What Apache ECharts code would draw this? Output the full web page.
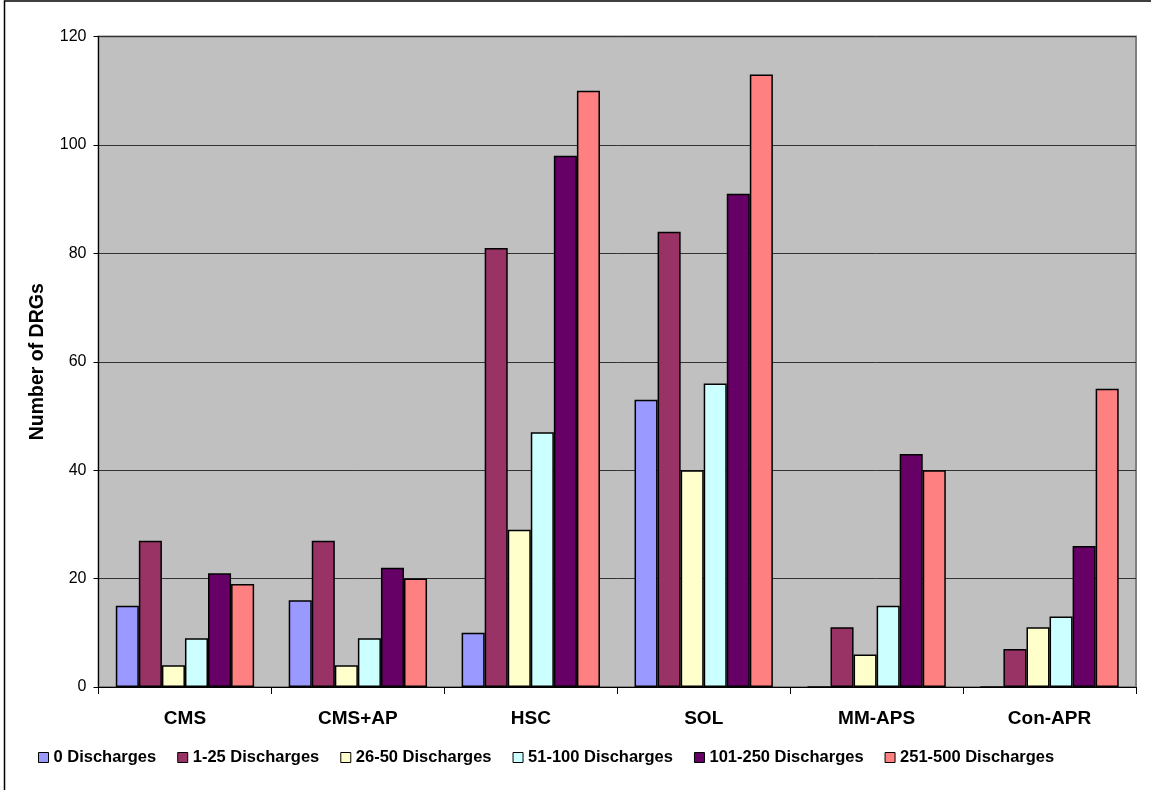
<!DOCTYPE html>
<html>
<head>
<meta charset="utf-8">
<script src="https://cdn.jsdelivr.net/npm/echarts@6/dist/echarts.min.js"></script>
<style>
  html, body { margin: 0; padding: 0; background: #fff; }
  #chart { width: 1151px; height: 790px; }
</style>
</head>
<body>
<div id="chart"></div>
<script>
// Programs compared along the x axis
const categories = ['CMS', 'CMS+AP', 'HSC', 'SOL', 'MM-APS', 'Con-APR'];

// Discharge-volume groups (one bar series each)
const seriesNames = [
  '0 Discharges', '1-25 Discharges', '26-50 Discharges',
  '51-100 Discharges', '101-250 Discharges', '251-500 Discharges'
];

// Number of DRGs per group, in category order
const d0       = [15, 16, 10, 53, 0, 0];
const d1_25    = [27, 27, 81, 84, 11, 7];
const d26_50   = [4, 4, 29, 40, 6, 11];
const d51_100  = [9, 9, 47, 56, 15, 13];
const d101_250 = [21, 22, 98, 91, 43, 26];
const d251_500 = [19, 20, 110, 113, 40, 55];

const seriesValues = [d0, d1_25, d26_50, d51_100, d101_250, d251_500];
const seriesColors = ['#9999FF', '#993366', '#FFFFCC', '#CCFFFF', '#660066', '#FF8080'];

// Value axis range
const yMin = 0, yMax = 120, yStep = 20;

const FONT = '"Liberation Sans", Arial, sans-serif';

const chart = echarts.init(document.getElementById('chart'), null, { renderer: 'canvas' });

chart.setOption({
  animation: false,
  backgroundColor: '#ffffff',
  textStyle: { fontFamily: FONT, color: '#000' },
  graphic: [{
    type: 'rect',
    shape: { x: 4.5, y: 1, width: 1300, height: 1000 },
    style: { fill: 'none', stroke: '#000', lineWidth: 1.5 },
    silent: true,
    z: -1
  }],
  grid: {
    left: 98.5, right: 15, top: 36.5, bottom: 103,
    show: true,
    backgroundColor: '#C0C0C0',
    borderColor: '#808080',
    borderWidth: 2
  },
  legend: {
    data: seriesNames,
    left: 33, top: 744,
    icon: 'rect',
    itemWidth: 10, itemHeight: 10,
    itemGap: 21,
    textStyle: { fontFamily: FONT, fontSize: 16.5, fontWeight: 'bold', color: '#000' },
    itemStyle: { borderColor: '#000', borderWidth: 1 }
  },
  xAxis: {
    type: 'category',
    data: categories,
    axisLine: { show: true, lineStyle: { color: '#000', width: 1 } },
    axisTick: { show: true, alignWithLabel: false, length: 7, lineStyle: { color: '#000' } },
    axisLabel: { margin: 22, fontFamily: FONT, fontSize: 19, fontWeight: 'bold', color: '#000' },
    splitLine: { show: false }
  },
  yAxis: {
    type: 'value',
    min: yMin, max: yMax, interval: yStep,
    name: 'Number of DRGs',
    nameLocation: 'middle',
    nameGap: 51,
    nameRotate: 90,
    nameTextStyle: { fontFamily: FONT, fontSize: 19.5, fontWeight: 'bold', color: '#000' },
    axisLine: { show: true, lineStyle: { color: '#000', width: 1 } },
    axisTick: { show: true, inside: false, length: 5, lineStyle: { color: '#000' } },
    axisLabel: { margin: 12, fontFamily: FONT, fontSize: 16, color: '#000' },
    splitLine: { show: true, lineStyle: { color: '#333333', width: 1 } }
  },
  series: seriesNames.map((name, i) => ({
    name: name,
    type: 'bar',
    data: seriesValues[i],
    barGap: '0%',
    barCategoryGap: '20%',
    itemStyle: { color: seriesColors[i], borderColor: '#000', borderWidth: 1.5 }
  }))
});
</script>
</body>
</html>
